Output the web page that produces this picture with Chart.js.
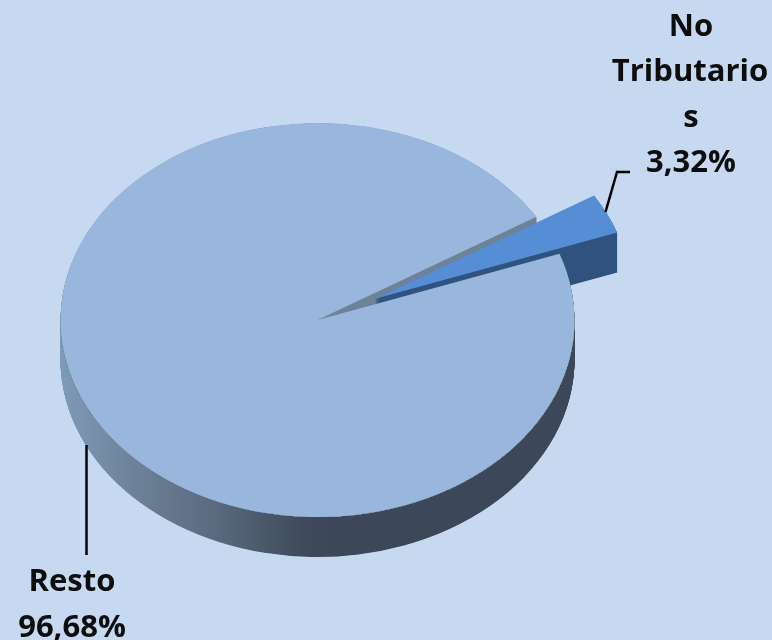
<!DOCTYPE html>
<html>
<head>
<meta charset="utf-8">
<title>Ingresos</title>
<script src="https://cdn.jsdelivr.net/npm/chart.js@4"></script>
<style>
	html, body { margin: 0; padding: 0; background: #c6d9f1; overflow: hidden; }
	canvas { display: block; }
</style>
</head>
<body>
<canvas id="pie-chart" width="772" height="640"></canvas>
<script>
	var categories = ["No Tributarios", "Resto"];
	var values = [3.32, 96.68];
	var sliceColors = ["#558ed5", "#99b6dc"];
	var wedgeSideColor = "#31547f";
	var cutWallColor = "#6f8397";

	var squash = 197 / 257; // tilt of the pie
	var depth = 40;
	var explode = 64; // how far the small slice is pulled out

	function pct(v) {
		return v.toFixed(2).replace(".", ",") + "%";
	}

	// side wall of the pie, lighter on the left
	function restoSide(ctx) {
		var g = ctx.createLinearGradient(60, 0, 575, 0);
		g.addColorStop(0, "#7f9ab8");
		g.addColorStop(0.06, "#7890aa");
		g.addColorStop(0.2, "#66798f");
		g.addColorStop(0.3, "#5a6b80");
		g.addColorStop(0.42, "#465464");
		g.addColorStop(0.47, "#3f4b5b");
		g.addColorStop(0.53, "#3c4858");
		g.addColorStop(1, "#3c4858");
		return g;
	}

	function tilt(ctx, cx, cy) {
		ctx.translate(cx, cy);
		ctx.scale(1, squash);
		ctx.translate(-cx, -cy);
	}

	function drawSide(ctx, arc, cx, cy, fill) {
		var plain = arc.options;
		var over = Object.create(plain);
		over.backgroundColor = fill;
		arc.options = over;
		for (var d = depth; d > 0; d -= 0.5) {
			ctx.save();
			ctx.translate(0, d);
			tilt(ctx, cx, cy);
			arc.draw(ctx);
			ctx.restore();
		}
		arc.options = plain;
	}

	var pie3d = {
		id: "pie3d",
		afterDatasetUpdate: function (chart, args) {
			var wedge = args.meta.data[0];
			var mid = (wedge.startAngle + wedge.endAngle) / 2;
			wedge.x += Math.cos(mid) * explode;
			wedge.y += Math.sin(mid) * explode;
		},
		beforeDatasetDraw: function (chart, args) {
			var ctx = chart.ctx;
			var arcs = args.meta.data;
			var resto = arcs[1];
			var cx = resto.x;
			var cy = resto.y;
			drawSide(ctx, resto, cx, cy, restoSide(ctx));
			// the cut face seen through the gap is paler than the rim
			ctx.save();
			ctx.beginPath();
			ctx.ellipse(cx, cy, resto.outerRadius, resto.outerRadius * squash, 0, 0, Math.PI * 2);
			ctx.clip();
			drawSide(ctx, resto, cx, cy, cutWallColor);
			ctx.restore();
			drawSide(ctx, arcs[0], cx, cy, wedgeSideColor);
			ctx.save();
			tilt(ctx, cx, cy);
		},
		afterDatasetDraw: function (chart) {
			chart.ctx.restore();
		},
		afterDraw: function (chart) {
			var ctx = chart.ctx;
			// leader lines
			ctx.save();
			ctx.strokeStyle = "#000";
			ctx.lineWidth = 2.5;
			ctx.beginPath();
			ctx.moveTo(605.5, 212);
			ctx.lineTo(617, 172);
			ctx.lineTo(630, 172);
			ctx.moveTo(86.5, 445);
			ctx.lineTo(86.5, 555);
			ctx.stroke();
			// labels
			ctx.fillStyle = "#0d0d0d";
			ctx.font = "bold 31px 'Open Sans'";
			ctx.textAlign = "center";
			ctx.textBaseline = "alphabetic";
			ctx.fillText("No", 691, 36);
			ctx.fillText("Tributario", 690, 81);
			ctx.fillText("s", 691, 127);
			ctx.fillText(pct(values[0]), 691, 172);
			ctx.fillText(categories[1], 72, 591);
			ctx.fillText(pct(values[1]), 72, 637);
			ctx.restore();
		},
	};

	var ctx = document.getElementById("pie-chart").getContext("2d");
	var myChart = new Chart(ctx, {
		type: "pie",
		data: {
			labels: categories,
			datasets: [
				{
					data: values,
					backgroundColor: sliceColors,
					borderWidth: 0,
					radius: 257,
					clip: false,
				},
			],
		},
		options: {
			responsive: false,
			animation: false,
			rotation: 58.4,
			layout: { padding: { right: 137 } },
			plugins: {
				legend: { display: false },
				tooltip: { enabled: false },
			},
		},
		plugins: [pie3d],
	});
</script>
</body>
</html>
